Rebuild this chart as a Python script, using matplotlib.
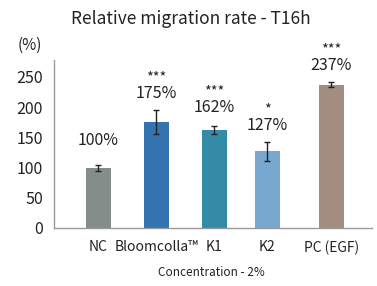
import matplotlib
matplotlib.use("Agg")
import matplotlib.pyplot as plt

plt.rcParams["font.family"] = ["Noto Sans CJK KR", "DejaVu Sans"]

categories = ["NC", "Bloomcolla™", "K1", "K2", "PC (EGF)"]
values = [100, 175, 162, 127, 237]
errors = [5, 20, 6, 16, 4]
value_labels = ["100%", "175%", "162%", "127%", "237%"]
stars = ["", "***", "***", "*", "***"]

# layout (bars in the source are not evenly spaced)
positions = [1.0, 2.0, 3.0, 3.91, 5.01]
colors = ["#858d8a", "#3572b0", "#338ba8", "#78a8d0", "#a38d82"]
label_gap = [40, 28, 32, 27, 28]

fig = plt.figure(figsize=(3.77, 2.86), dpi=100)
ax = fig.add_axes([0.143, 0.203, 0.844, 0.587])

ax.bar(positions, values, width=0.43, color=colors, zorder=2)
ax.errorbar(positions, values, yerr=errors, fmt="none", ecolor="#222222",
            elinewidth=1.0, capsize=2.5, capthick=1.0, zorder=3)

for x, v, e, lab, st, g in zip(positions, values, errors, value_labels, stars, label_gap):
    y = v + e + g
    ax.text(x, y, lab, ha="center", va="center", fontsize=11.5, color="#222222")
    if st:
        ax.text(x, y + 27, st, ha="center", va="center", fontsize=10.5, color="#222222")

ax.set_xlim(0.233, 5.716)
ax.set_ylim(0, 278)
ax.set_yticks([0, 50, 100, 150, 200, 250])
ax.set_xticks(positions)
ax.set_xticklabels(categories, fontsize=10, color="#222222")
ax.tick_params(axis="both", length=0)
ax.tick_params(axis="y", labelsize=11.5, labelcolor="#222222", pad=8)
ax.tick_params(axis="x", pad=9)
for s in ["top", "right"]:
    ax.spines[s].set_visible(False)
for s in ["left", "bottom"]:
    ax.spines[s].set_color("#9a9a9a")
    ax.spines[s].set_linewidth(1.0)

fig.text(0.507, 0.935, "Relative migration rate - T16h", ha="center", va="center",
         fontsize=12.5, color="#222222")
fig.text(0.08, 0.842, "(%)", ha="center", va="center", fontsize=11, color="#222222")
fig.text(0.56, 0.048, "Concentration - 2%", ha="center", va="center",
         fontsize=8.5, color="#222222")

fig.savefig("out.png", dpi=100)
